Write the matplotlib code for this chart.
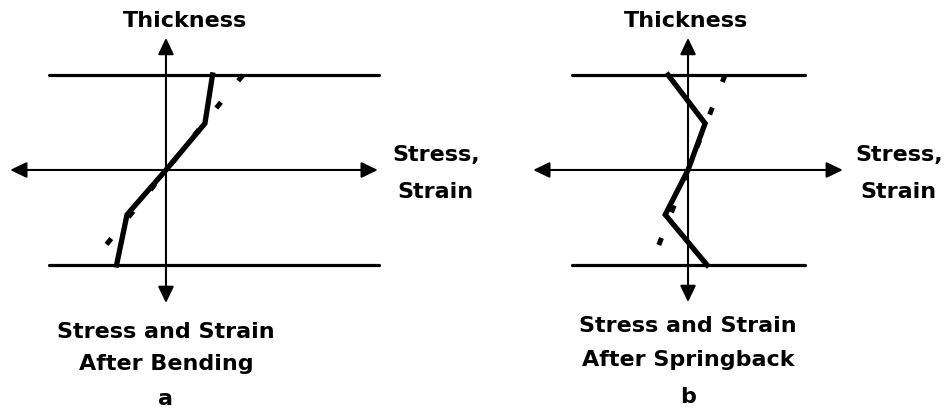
import matplotlib.pyplot as plt

# geometry in "thickness units": the two plate surfaces are at +1 / -1
thickness = [1.0, 0.49, 0.0, -0.47, -1.0]
stress_bending = [0.49, 0.41, 0.0, -0.41, -0.52]
stress_springback = [-0.21, 0.18, 0.0, -0.24, 0.20]

strain_ends = [1.0, -1.0]
strain_bending = [0.81, -0.80]
strain_springback = [0.39, -0.39]

panels = [
    dict(offset=0.0, stress=stress_bending, strain=strain_bending,
         plate=(-1.23, 2.24), haxis=(-1.64, 2.23), vaxis=(1.39, -1.40),
         title_x=0.20, side_x=2.84, caption="After Bending", letter="a",
         cap_y=(-1.77, -2.11, -2.47)),
    dict(offset=5.495, stress=stress_springback, strain=strain_springback,
         plate=(-1.22, 1.23), haxis=(-1.63, 1.63), vaxis=(1.39, -1.39),
         title_x=-0.02, side_x=2.22, caption="After Springback", letter="b",
         cap_y=(-1.70, -2.06, -2.45)),
]

fig = plt.figure(figsize=(9.51, 4.12), dpi=100)
ax = fig.add_axes([0, 0, 1, 1])
ax.set_xlim(-1.747, 8.263)
ax.set_ylim(-2.547, 1.789)
ax.axis("off")

font = dict(family="DejaVu Sans", fontweight="bold", fontsize=16, color="black")

for p in panels:
    o = p["offset"]
    # plate surfaces
    for t in (1.0, -1.0):
        ax.plot([o + p["plate"][0], o + p["plate"][1]], [t, t],
                color="black", lw=2.3, solid_capstyle="round")
    # axes with arrow heads
    arrow = dict(arrowstyle="<|-|>,head_length=0.5,head_width=0.24",
                 color="black", lw=1.5, mutation_scale=20, shrinkA=0, shrinkB=0)
    ax.annotate("", xy=(o + p["haxis"][1], 0), xytext=(o + p["haxis"][0], 0),
                arrowprops=arrow)
    ax.annotate("", xy=(o, p["vaxis"][0]), xytext=(o, p["vaxis"][1]),
                arrowprops=arrow)
    # linear strain (dashed) and stress (solid)
    ax.plot([o + s for s in p["strain"]], strain_ends, color="black", lw=3.6,
            linestyle=(0, (1.5, 5.5)))
    ax.plot([o + s for s in p["stress"]], thickness, color="black", lw=3.8,
            solid_joinstyle="miter")
    # labels
    ax.text(o + p["title_x"], 1.50, "Thickness", ha="center", va="baseline", **font)
    ax.text(o + p["side_x"], 0.09, "Stress,", ha="center", va="baseline", **font)
    ax.text(o + p["side_x"], -0.30, "Strain", ha="center", va="baseline", **font)
    ax.text(o, p["cap_y"][0], "Stress and Strain", ha="center", va="baseline", **font)
    ax.text(o, p["cap_y"][1], p["caption"], ha="center", va="baseline", **font)
    ax.text(o, p["cap_y"][2], p["letter"], ha="center", va="baseline", **font)

fig.savefig("out.png", dpi=100)
